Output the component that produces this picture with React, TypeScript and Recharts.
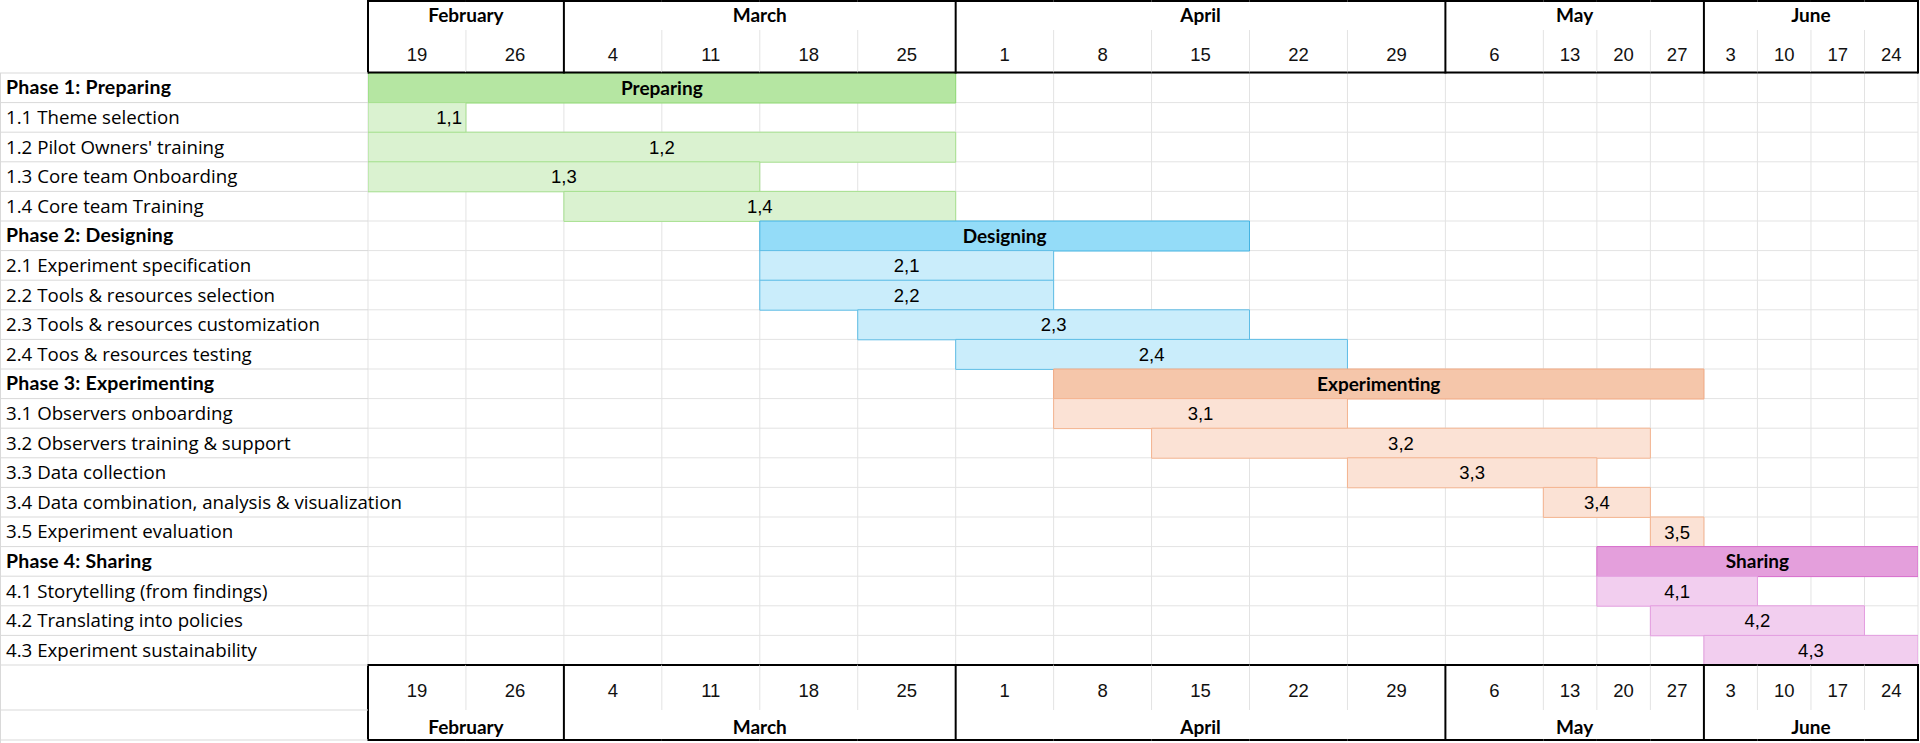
import React from "react";
import { BarChart, Bar, XAxis, YAxis, CartesianGrid, Cell, LabelList } from "recharts";

const weekLabels = ["19", "26", "4", "11", "18", "25", "1", "8", "15", "22", "29", "6", "13", "20", "27", "3", "10", "17", "24"];
const monthLabels = ["February", "March", "April", "May", "June"];
const monthFirstWeek = [0, 2, 6, 11, 15];

const taskLabels = [
  "Phase 1: Preparing",
  "1.1 Theme selection",
  "1.2 Pilot Owners' training",
  "1.3 Core team Onboarding",
  "1.4 Core team Training",
  "Phase 2: Designing",
  "2.1 Experiment specification",
  "2.2 Tools & resources selection",
  "2.3 Tools & resources customization",
  "2.4 Toos & resources testing",
  "Phase 3: Experimenting",
  "3.1 Observers onboarding",
  "3.2 Observers training & support",
  "3.3 Data collection",
  "3.4 Data combination, analysis & visualization",
  "3.5 Experiment evaluation",
  "Phase 4: Sharing",
  "4.1 Storytelling (from findings)",
  "4.2 Translating into policies",
  "4.3 Experiment sustainability",
];
const barLabels = [
  "Preparing", "1,1", "1,2", "1,3", "1,4",
  "Designing", "2,1", "2,2", "2,3", "2,4",
  "Experimenting", "3,1", "3,2", "3,3", "3,4", "3,5",
  "Sharing", "4,1", "4,2", "4,3",
];
const taskPhase = [0, 0, 0, 0, 0, 1, 1, 1, 1, 1, 2, 2, 2, 2, 2, 2, 3, 3, 3, 3];
const isPhaseRow = [true, false, false, false, false, true, false, false, false, false, true, false, false, false, false, false, true, false, false, false];
// first week column and the column after the last one
const startWeek = [0, 0, 0, 0, 2, 4, 4, 4, 5, 6, 7, 7, 8, 10, 12, 14, 13, 13, 14, 15];
const endWeek = [6, 1, 6, 4, 6, 9, 7, 7, 9, 10, 15, 10, 14, 13, 14, 15, 19, 16, 18, 19];

// ---- layout ----
const CHART_W = 1920;
const CHART_H = 743;
const LABEL_W = 368;
const RIGHT_PAD = 2;
const PLOT_LEFT = LABEL_W;
const PLOT_W = CHART_W - LABEL_W - RIGHT_PAD;
const PLOT_TOP = 73;
const PLOT_BOTTOM = 665;
const ROW_H = (PLOT_BOTTOM - PLOT_TOP) / taskLabels.length;

// Feb-May 6 columns are wide, the later ones narrow (as in the sheet)
const weekUnits = weekLabels.map((_, i) => (i < 12 ? 1.83 : 1));
const weekEdges = weekUnits.reduce<number[]>((acc, u) => [...acc, acc[acc.length - 1] + u], [0]);
const TOTAL_UNITS = weekEdges[weekEdges.length - 1];
const PX_PER_UNIT = PLOT_W / TOTAL_UNITS;
const weekCenters = weekUnits.map((u, i) => weekEdges[i] + u / 2);
const monthCenters = monthFirstWeek.map((w, i) => {
  const next = i + 1 < monthFirstWeek.length ? monthFirstWeek[i + 1] : weekLabels.length;
  return (weekEdges[w] + weekEdges[next]) / 2;
});

const phaseFill = ["#b5e6a2", "#94dcf8", "#f5c6aa", "#e49fdc"];
const phaseStroke = ["#8ed973", "#44b3e1", "#f1a983", "#d86dcd"];
const taskFill = ["#daf2d0", "#caedfb", "#fbe2d5", "#f2ceef"];
const taskStroke = ["#a6e08f", "#5ebde6", "#f4b490", "#e49ee0"];

const GRID = "#e3e3e3";
const LABEL_GRID = "#d9d9d9";
const TEXT_FONT = "Lato, 'Liberation Sans', sans-serif";
const ROW_FONT = "'Open Sans', Lato, sans-serif";
const NUM_FONT = "'Liberation Sans', Arial, sans-serif";

const TOP_BOX = { top: 1, bottom: 72.5, dayTop: 30, dayBottom: 72, dayBase: 61, monthBase: 22 };
const BOTTOM_BOX = { top: 665, bottom: 740, dayTop: 665, dayBottom: 710, dayBase: 697, monthBase: 734 };

const rows = taskLabels.map((task, i) => ({
  task,
  span: [weekEdges[startWeek[i]], weekEdges[endWeek[i]]],
  label: barLabels[i],
}));

const findIndex = (list: number[], v: number) => list.findIndex((c) => Math.abs(c - v) < 1e-6);

const weekTick = (where: "top" | "bottom") => (props: any) => {
  const { x, payload } = props;
  const i = findIndex(weekCenters, payload.value);
  if (i < 0) return <g />;
  const half = (weekUnits[i] * PX_PER_UNIT) / 2;
  const left = x - half;
  const right = x + half;
  const box = where === "top" ? TOP_BOX : BOTTOM_BOX;
  const monthStart = monthFirstWeek.includes(i);
  const last = i === weekLabels.length - 1;
  return (
    <g>
      {!monthStart && <line x1={left} x2={left} y1={box.dayTop} y2={box.dayBottom} stroke={GRID} />}
      <line x1={left} x2={right} y1={box.top} y2={box.top} stroke="#000" strokeWidth={2} />
      <line x1={left} x2={right} y1={box.bottom} y2={box.bottom} stroke="#000" strokeWidth={2} />
      {monthStart && <line x1={left} x2={left} y1={box.top - 1} y2={box.bottom + 1} stroke="#000" strokeWidth={2} />}
      {last && <line x1={right} x2={right} y1={box.top - 1} y2={box.bottom + 1} stroke="#000" strokeWidth={2} />}
      <text x={x} y={box.dayBase} textAnchor="middle" fontFamily={NUM_FONT} fontSize={18.5} fill="#111">
        {weekLabels[i]}
      </text>
    </g>
  );
};

const monthTick = (where: "top" | "bottom") => (props: any) => {
  const { x, payload } = props;
  const i = findIndex(monthCenters, payload.value);
  if (i < 0) return <g />;
  const box = where === "top" ? TOP_BOX : BOTTOM_BOX;
  return (
    <text x={x} y={box.monthBase} textAnchor="middle" fontFamily={TEXT_FONT} fontWeight={700} fontSize={19} fill="#000">
      {monthLabels[i]}
    </text>
  );
};

const taskTick = (props: any) => {
  const { y, payload } = props;
  const i = taskLabels.indexOf(payload.value);
  const bold = isPhaseRow[i];
  return (
    <g>
      <line x1={0} x2={LABEL_W} y1={y + ROW_H / 2} y2={y + ROW_H / 2} stroke={LABEL_GRID} />
      {i === 0 && (
        <g>
          <line x1={0} x2={LABEL_W} y1={PLOT_TOP} y2={PLOT_TOP} stroke={LABEL_GRID} />
          <line x1={0} x2={LABEL_W} y1={BOTTOM_BOX.dayBottom} y2={BOTTOM_BOX.dayBottom} stroke={LABEL_GRID} />
          <line x1={0} x2={LABEL_W} y1={BOTTOM_BOX.bottom} y2={BOTTOM_BOX.bottom} stroke={LABEL_GRID} />
          <line x1={0.5} x2={0.5} y1={PLOT_TOP} y2={CHART_H} stroke={LABEL_GRID} />
        </g>
      )}
      <text
        x={6}
        y={y + 6.5}
        fontFamily={bold ? TEXT_FONT : ROW_FONT}
        fontSize={bold ? 19.5 : 18.7}
        fontWeight={bold ? 700 : 400}
        letterSpacing={bold ? 0.2 : 0}
        fill="#000"
      >
        {payload.value}
      </text>
    </g>
  );
};

const barLabel = (props: any) => {
  const { x, y, width, height, index, value } = props;
  const phase = isPhaseRow[index];
  const rightAligned = value === "1,1";
  return (
    <text
      x={rightAligned ? x + width - 4 : x + width / 2}
      y={y + height / 2 + 6.5}
      textAnchor={rightAligned ? "end" : "middle"}
      fontFamily={phase ? TEXT_FONT : NUM_FONT}
      fontWeight={phase ? 700 : 400}
      fontSize={phase ? 19 : 18.5}
      fill="#000"
    >
      {value}
    </text>
  );
};

const verticalLines = (props: any) => {
  const scale = props?.xAxis?.scale;
  return weekEdges.map((e) => (typeof scale === "function" ? scale(e) : PLOT_LEFT + e * PX_PER_UNIT));
};

const horizontalLines = () => taskLabels.map((_, i) => PLOT_TOP + i * ROW_H).concat([PLOT_BOTTOM]);

export default function App() {
  return (
    <div style={{ width: CHART_W, height: CHART_H, background: "#fff" }}>
      <style>{"body{margin:0;}"}</style>
      <BarChart
        width={CHART_W}
        height={CHART_H}
        data={rows}
        layout="vertical"
        barCategoryGap={0}
        margin={{ top: 0, right: RIGHT_PAD, bottom: 0, left: 0 }}
      >
        <CartesianGrid
          xAxisId="wk"
          stroke={GRID}
          verticalCoordinatesGenerator={verticalLines}
          horizontalCoordinatesGenerator={horizontalLines}
        />
        <XAxis
          xAxisId="mo"
          orientation="top"
          type="number"
          domain={[0, TOTAL_UNITS]}
          allowDataOverflow
          ticks={monthCenters}
          interval={0}
          height={30}
          tick={monthTick("top")}
          tickLine={false}
          axisLine={false}
        />
        <XAxis
          xAxisId="wk"
          orientation="top"
          type="number"
          domain={[0, TOTAL_UNITS]}
          allowDataOverflow
          ticks={weekCenters}
          interval={0}
          height={43}
          tick={weekTick("top")}
          tickLine={false}
          axisLine={false}
        />
        <XAxis
          xAxisId="wkBottom"
          orientation="bottom"
          type="number"
          domain={[0, TOTAL_UNITS]}
          allowDataOverflow
          ticks={weekCenters}
          interval={0}
          height={45}
          tick={weekTick("bottom")}
          tickLine={false}
          axisLine={false}
        />
        <XAxis
          xAxisId="moBottom"
          orientation="bottom"
          type="number"
          domain={[0, TOTAL_UNITS]}
          allowDataOverflow
          ticks={monthCenters}
          interval={0}
          height={33}
          tick={monthTick("bottom")}
          tickLine={false}
          axisLine={false}
        />
        <YAxis
          type="category"
          dataKey="task"
          width={LABEL_W}
          interval={0}
          tick={taskTick}
          tickLine={false}
          axisLine={false}
        />
        <Bar xAxisId="wk" dataKey="span" isAnimationActive={false}>
          {rows.map((_, i) => (
            <Cell
              key={i}
              fill={isPhaseRow[i] ? phaseFill[taskPhase[i]] : taskFill[taskPhase[i]]}
              stroke={isPhaseRow[i] ? phaseStroke[taskPhase[i]] : taskStroke[taskPhase[i]]}
              strokeWidth={1}
            />
          ))}
          <LabelList dataKey="label" content={barLabel} />
        </Bar>
      </BarChart>
    </div>
  );
}
